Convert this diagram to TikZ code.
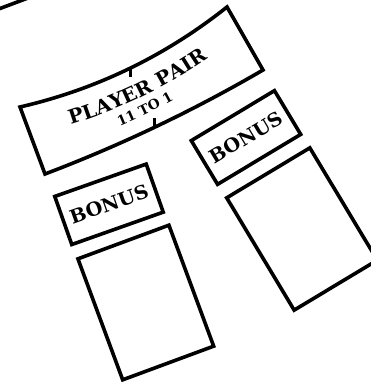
\documentclass[tikz,border=0pt]{standalone}
\usepackage{fontspec}
\usetikzlibrary{decorations.text}
\newfontfamily\tblfont[FakeStretch=1.02]{DejaVu Serif}
\begin{document}
\begin{tikzpicture}[x=1pt,y=-1pt,line width=3.6pt,line join=miter]
\tikzset{
  bonusbox/.style={draw,inner sep=0pt,minimum width=97pt,minimum height=51pt,
    font=\tblfont\bfseries\fontsize{19}{19}\selectfont},
  cardbox/.style={draw,inner sep=0pt,minimum width=97pt,minimum height=129pt},
  tick/.style={line width=3pt,line cap=butt},
  pptext/.style={decorate,decoration={text along path,text align=center,text={|\tblfont\bfseries\fontsize{19.5}{19.5}\selectfont|PLAYER PAIR}}},
  oddtext/.style={decorate,decoration={text along path,text align=center,text={|\tblfont\bfseries\fontsize{13.5}{13.5}\selectfont|11 TO 1}}}
}
\useasboundingbox (0,0) rectangle (371,382);
\clip (0,0) rectangle (371,382);
% fragment of the table edge
\coordinate (edgeA) at (-4,10);
\coordinate (edgeB) at (28,-2);
\draw (edgeA) -- (edgeB);
% player pair
\coordinate (ppTL) at (20,107);
\coordinate (ppTR) at (227,7);
\coordinate (ppBR) at (263,70);
\coordinate (ppBL) at (45,174);
\draw (ppTL) .. controls (96.5,89.3) and (165.5,55.9) .. (ppTR) -- (ppBR)
  .. controls (193.3,110.7) and (120.6,145.3) .. (ppBL) -- cycle;
\coordinate (tkTa) at (130,67);
\coordinate (tkTb) at (130,77);
\coordinate (tkBa) at (154,128.5);
\coordinate (tkBb) at (154,118.5);
\draw[tick] (tkTa) -- (tkTb);
\draw[tick] (tkBa) -- (tkBb);
\path[pptext] (33,135) .. controls (109.5,117.3) and (178.5,83.9) .. (240,35);
\path[oddtext] (38,152) .. controls (114.5,134.3) and (183.5,100.9) .. (245,52);
% bonus and card spots
\node[bonusbox,rotate=19.5] (bonusL) at (109,204.3) {BONUS};
\node[cardbox,rotate=20.3] (cardL) at (145.8,302.5) {};
\node[bonusbox,rotate=31] (bonusR) at (246,137.5) {BONUS};
\node[cardbox,rotate=31,minimum height=131pt] (cardR) at (302,229) {};
\end{tikzpicture}
\end{document}
